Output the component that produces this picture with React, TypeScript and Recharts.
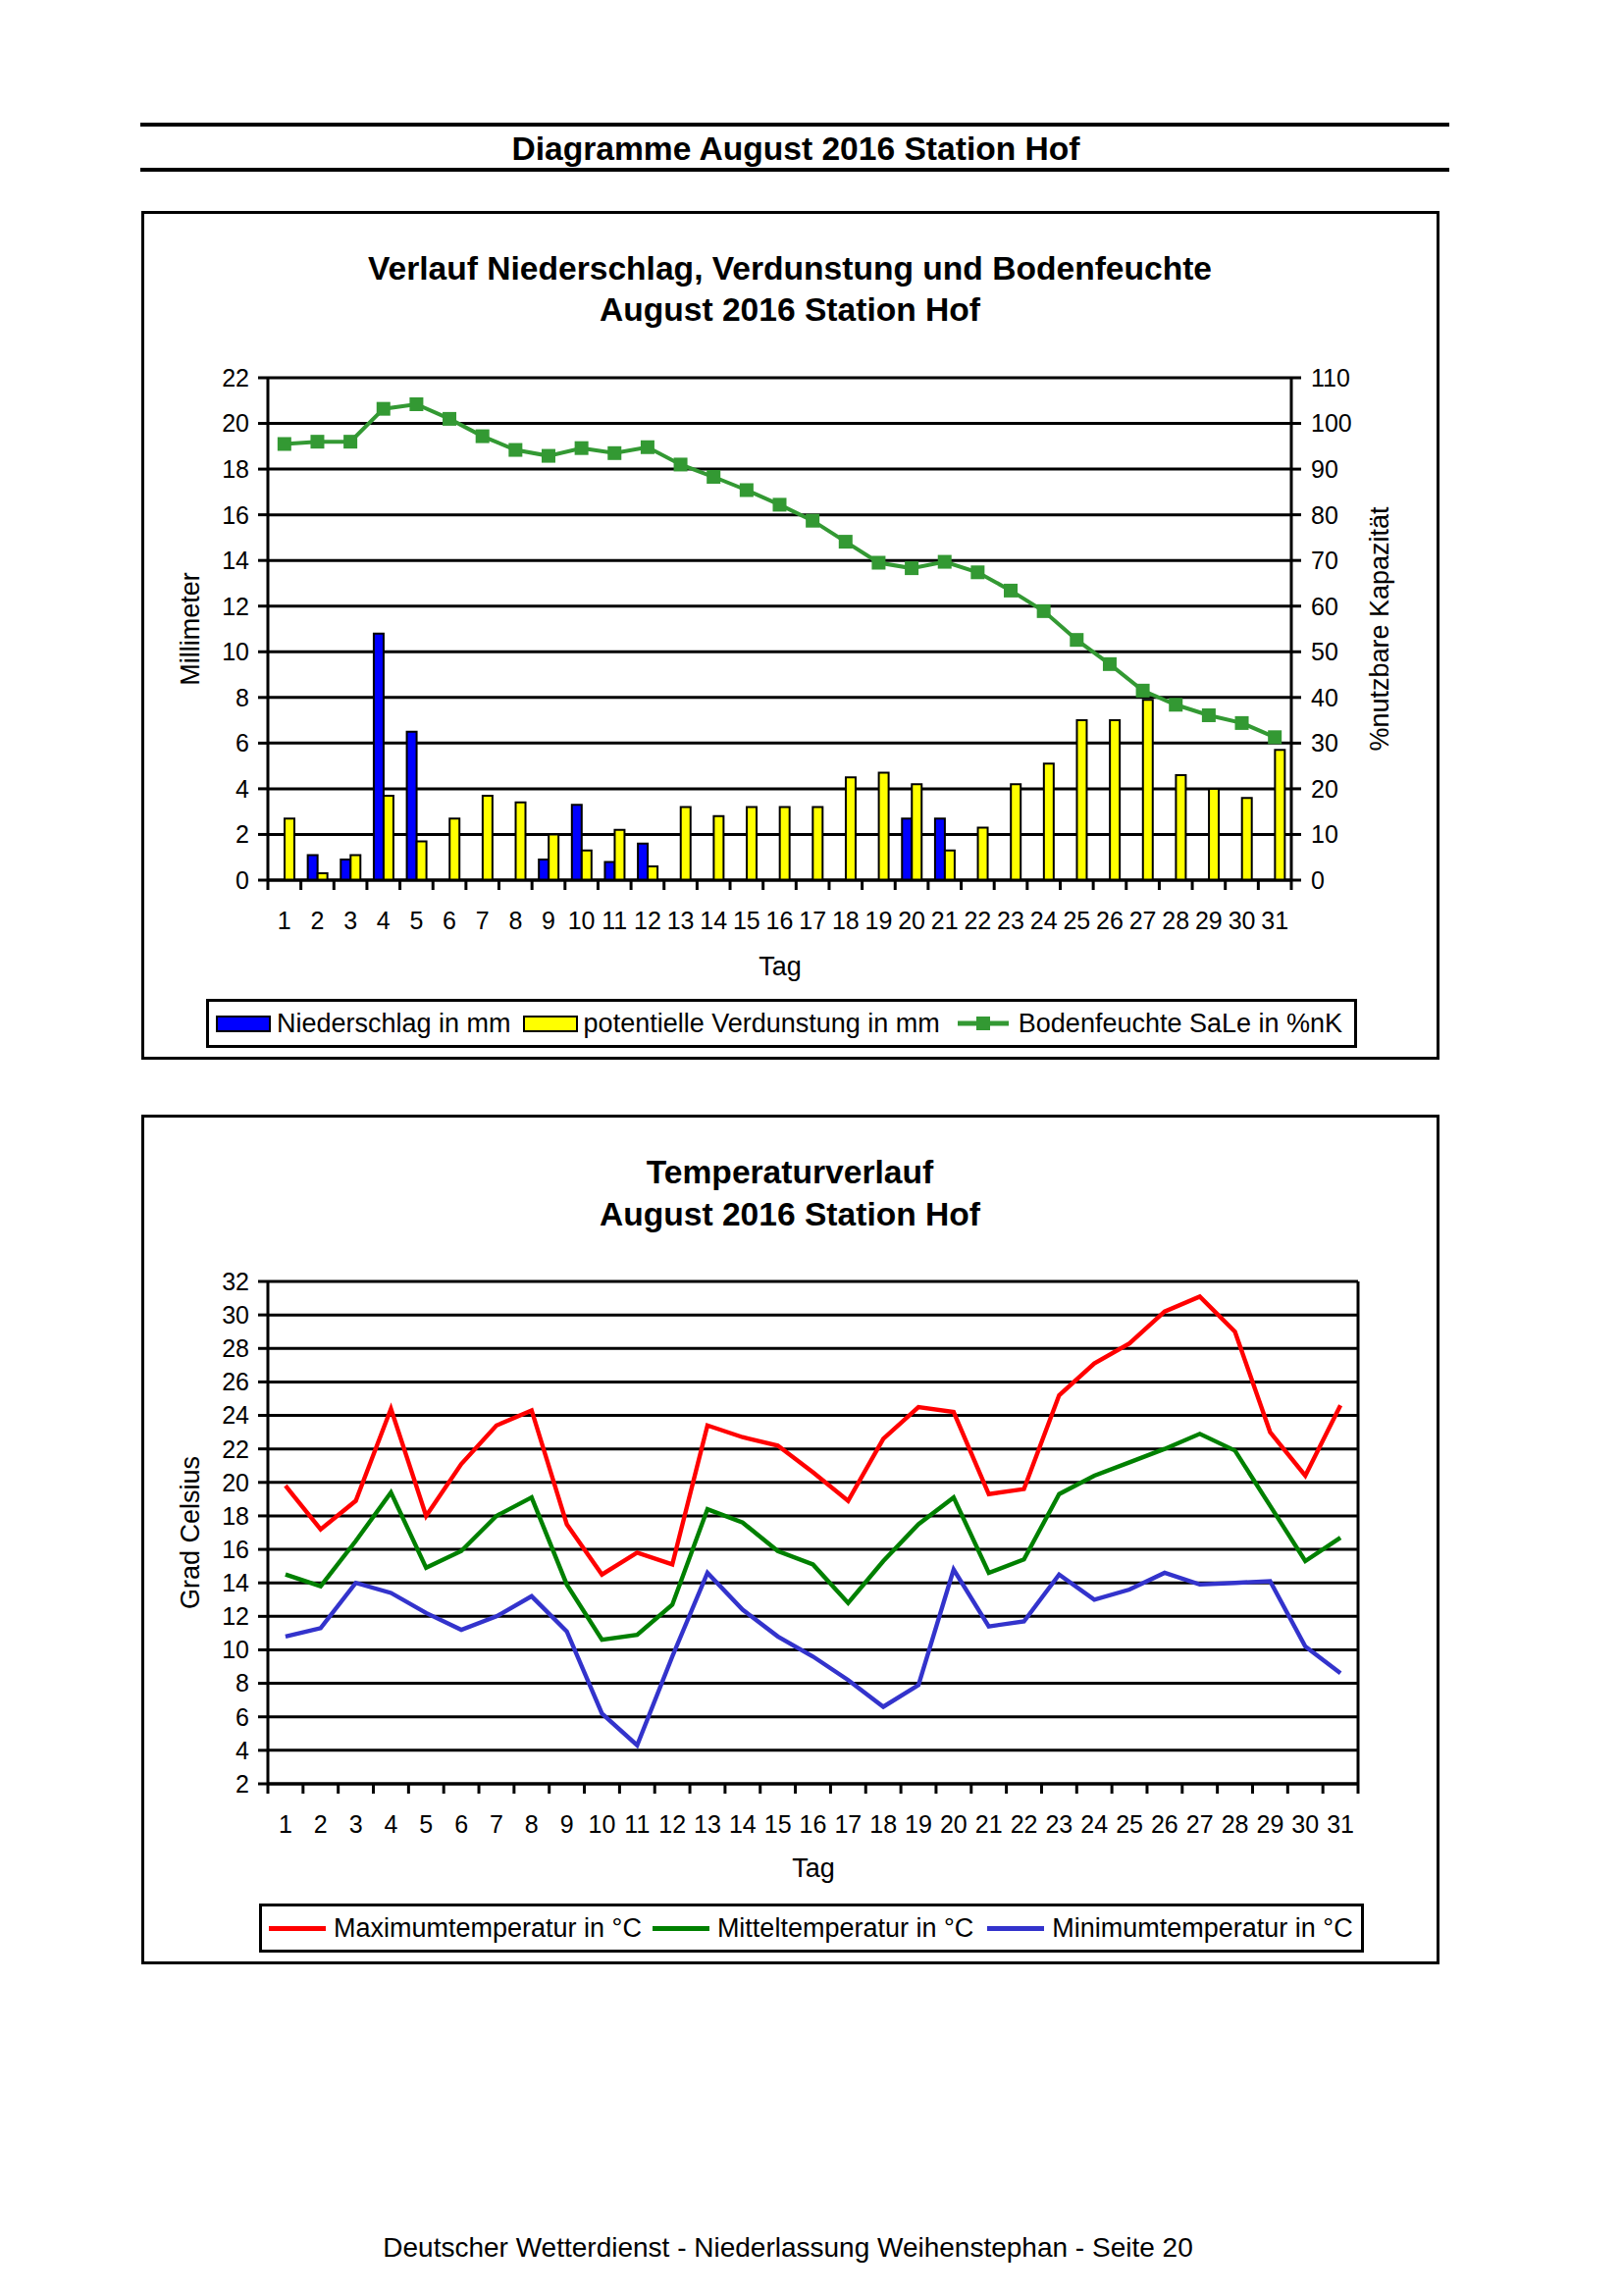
import React from 'react';
import { ComposedChart, LineChart, Bar, Line, XAxis, YAxis, CartesianGrid } from 'recharts';

const FONT = '"Liberation Sans", Arial, Helvetica, sans-serif';

const days = ['1','2','3','4','5','6','7','8','9','10','11','12','13','14','15','16','17','18','19','20','21','22','23','24','25','26','27','28','29','30','31'];

const niederschlag = [0, 1.1, 0.9, 10.8, 6.5, 0, 0, 0, 0.9, 3.3, 0.8, 1.6, 0, 0, 0, 0, 0, 0, 0, 2.7, 2.7, 0, 0, 0, 0, 0, 0, 0, 0, 0, 0];
const verdunstung = [2.7, 0.3, 1.1, 3.7, 1.7, 2.7, 3.7, 3.4, 2.0, 1.3, 2.2, 0.6, 3.2, 2.8, 3.2, 3.2, 3.2, 4.5, 4.7, 4.2, 1.3, 2.3, 4.2, 5.1, 7.0, 7.0, 7.9, 4.6, 4.0, 3.6, 5.7];
const bodenfeuchte = [95.5, 96.0, 96.0, 103.2, 104.2, 101.0, 97.2, 94.2, 92.9, 94.6, 93.5, 94.8, 91.0, 88.3, 85.4, 82.2, 78.7, 74.1, 69.5, 68.3, 69.7, 67.4, 63.4, 58.9, 52.6, 47.3, 41.5, 38.4, 36.1, 34.4, 31.3];

const tMax = [19.8, 17.2, 18.9, 24.4, 18.0, 21.1, 23.4, 24.3, 17.5, 14.5, 15.8, 15.1, 23.4, 22.7, 22.2, 20.6, 18.9, 22.6, 24.5, 24.2, 19.3, 19.6, 25.2, 27.1, 28.3, 30.2, 31.1, 29.0, 23.0, 20.4, 24.6];
const tMittel = [14.5, 13.8, 16.5, 19.4, 14.9, 15.9, 18.0, 19.1, 13.9, 10.6, 10.9, 12.7, 18.4, 17.6, 15.9, 15.1, 12.8, 15.3, 17.5, 19.1, 14.6, 15.4, 19.3, 20.4, 21.2, 22.0, 22.9, 21.9, 18.6, 15.3, 16.7];
const tMin = [10.8, 11.3, 14.0, 13.4, 12.2, 11.2, 12.0, 13.2, 11.1, 6.2, 4.3, 9.6, 14.6, 12.4, 10.8, 9.6, 8.2, 6.6, 7.9, 14.8, 11.4, 11.7, 14.5, 13.0, 13.6, 14.6, 13.9, 14.0, 14.1, 10.2, 8.6];

const mmTicks = [0, 2, 4, 6, 8, 10, 12, 14, 16, 18, 20, 22];
const nkTicks = [0, 10, 20, 30, 40, 50, 60, 70, 80, 90, 100, 110];
const tempTicks = [2, 4, 6, 8, 10, 12, 14, 16, 18, 20, 22, 24, 26, 28, 30, 32];

const wasserData = days.map((d, i) => ({
  tag: d,
  nied: niederschlag[i],
  verd: verdunstung[i],
  boden: bodenfeuchte[i],
}));

const tempData = days.map((d, i) => ({
  tag: d,
  max: tMax[i],
  mittel: tMittel[i],
  min: tMin[i],
}));

const BLUE = '#0000FF';
const YELLOW = '#FFFF00';
const GREEN_SOIL = '#339933';
const RED = '#FF0000';
const GREEN_T = '#008000';
const BLUE_T = '#3333CC';

const TICK_FS = 25;
const LABEL_FS = 27;
const TITLE_FS = 33.6;

function makeDayTick(plotWidth: number) {
  return function DayTick(props: any) {
    const { x, y, payload, index, visibleTicksCount } = props;
    const count = visibleTicksCount || 31;
    const half = plotWidth / count / 2;
    const last = index === count - 1;
    return (
      <g>
        <line x1={x - half} x2={x - half} y1={y} y2={y + 10} stroke="#000" strokeWidth={3} />
        {last ? <line x1={x + half} x2={x + half} y1={y} y2={y + 10} stroke="#000" strokeWidth={3} /> : null}
        <text x={x} y={y + 41} dy="0.35em" textAnchor="middle" fontSize={TICK_FS} fill="#000" fontFamily={FONT}>
          {payload.value}
        </text>
      </g>
    );
  };
}

function SquareDot(props: any) {
  const { cx, cy, index } = props;
  if (cx == null || cy == null) return <g key={`d${index}`} />;
  return <rect key={`d${index}`} x={cx - 7} y={cy - 7} width={14} height={14} fill={GREEN_SOIL} />;
}

function Txt(props: { cx: number; cy: number; size: number; bold?: boolean; rotate?: boolean; children: React.ReactNode }) {
  const { cx, cy, size, bold, rotate, children } = props;
  return (
    <div
      style={{
        position: 'absolute',
        left: cx,
        top: cy,
        transform: `translate(-50%, -50%)${rotate ? ' rotate(-90deg)' : ''}`,
        whiteSpace: 'nowrap',
        fontSize: size,
        lineHeight: 1,
        fontWeight: bold ? 700 : 400,
        fontFamily: FONT,
        color: '#000',
      }}
    >
      {children}
    </div>
  );
}

const axisLineStyle = { stroke: '#000', strokeWidth: 3 };
const tickStyle = { fontSize: TICK_FS, fill: '#000', fontFamily: FONT };

function WasserChart() {
  // box: left 144, top 215, 1323 x 865 ; plot: x 273..1316, y 385..897
  const plotW = 1316 - 273;
  return (
    <div style={{ position: 'absolute', left: 144, top: 215 }}>
      <ComposedChart
        width={1323}
        height={865}
        data={wasserData}
        margin={{ top: 170, left: 69, right: 91, bottom: 123 }}
        barGap={0}
        barCategoryGap={0}
      >
        <CartesianGrid vertical={false} horizontal stroke="#000" strokeWidth={3} />
        <XAxis
          dataKey="tag"
          interval={0}
          height={60}
          tickLine={false}
          tickSize={0}
          tickMargin={0}
          axisLine={axisLineStyle}
          tick={makeDayTick(plotW)}
        />
        <YAxis
          domain={[0, 22]}
          ticks={mmTicks}
          interval={0}
          width={60}
          tickSize={10}
          tickMargin={9}
          tick={tickStyle}
          tickLine={axisLineStyle}
          axisLine={axisLineStyle}
          allowDataOverflow
        />
        <YAxis
          yAxisId="right"
          orientation="right"
          domain={[0, 110]}
          ticks={nkTicks}
          interval={0}
          width={60}
          tickSize={10}
          tickMargin={10}
          tick={tickStyle}
          tickLine={axisLineStyle}
          axisLine={axisLineStyle}
          allowDataOverflow
        />
        <Bar dataKey="nied" fill={BLUE} stroke="#000" strokeWidth={2} barSize={10} isAnimationActive={false} />
        <Bar dataKey="verd" fill={YELLOW} stroke="#000" strokeWidth={2} barSize={10} isAnimationActive={false} />
        <Line
          yAxisId="right"
          dataKey="boden"
          stroke={GREEN_SOIL}
          strokeWidth={4}
          dot={SquareDot}
          activeDot={false}
          isAnimationActive={false}
        />
      </ComposedChart>
    </div>
  );
}

function TempChart() {
  // box: left 144, top 1136, 1323 x 866 ; plot: x 273..1384, y 1306..1818
  const plotW = 1384 - 273;
  return (
    <div style={{ position: 'absolute', left: 144, top: 1136 }}>
      <LineChart
        width={1323}
        height={866}
        data={tempData}
        margin={{ top: 170, left: 69, right: 82, bottom: 124 }}
      >
        <CartesianGrid vertical={false} horizontal stroke="#000" strokeWidth={3} />
        <XAxis
          dataKey="tag"
          scale="band"
          interval={0}
          height={60}
          tickLine={false}
          tickSize={0}
          tickMargin={0}
          axisLine={axisLineStyle}
          tick={makeDayTick(plotW)}
        />
        <YAxis
          domain={[2, 32]}
          ticks={tempTicks}
          interval={0}
          width={60}
          tickSize={10}
          tickMargin={9}
          tick={tickStyle}
          tickLine={axisLineStyle}
          axisLine={axisLineStyle}
          allowDataOverflow
        />
        <YAxis
          yAxisId="frame"
          orientation="right"
          domain={[2, 32]}
          width={1}
          tick={false}
          tickLine={false}
          axisLine={axisLineStyle}
        />
        <Line dataKey="max" stroke={RED} strokeWidth={4.4} dot={false} activeDot={false} isAnimationActive={false} />
        <Line dataKey="mittel" stroke={GREEN_T} strokeWidth={4.4} dot={false} activeDot={false} isAnimationActive={false} />
        <Line dataKey="min" stroke={BLUE_T} strokeWidth={4.4} dot={false} activeDot={false} isAnimationActive={false} />
      </LineChart>
    </div>
  );
}

function Box(props: { left: number; top: number; width: number; height: number; border?: number }) {
  const { left, top, width, height, border = 3 } = props;
  return (
    <div
      style={{
        position: 'absolute',
        left,
        top,
        width,
        height,
        border: `${border}px solid #000`,
        boxSizing: 'border-box',
        background: 'transparent',
      }}
    />
  );
}

function HLine(props: { left: number; top: number; width: number; h: number }) {
  return (
    <div style={{ position: 'absolute', left: props.left, top: props.top, width: props.width, height: props.h, background: '#000' }} />
  );
}

const legendText: React.CSSProperties = { fontSize: LABEL_FS, fontFamily: FONT, color: '#000', whiteSpace: 'nowrap', lineHeight: 1 };

function WasserLegend() {
  return (
    <div
      style={{
        position: 'absolute',
        left: 210,
        top: 1018,
        width: 1173,
        height: 50,
        border: '3px solid #000',
        boxSizing: 'border-box',
        display: 'flex',
        alignItems: 'center',
        paddingLeft: 7,
        background: '#fff',
      }}
    >
      <div style={{ width: 56, height: 17, background: BLUE, border: '2px solid #000', boxSizing: 'border-box', marginRight: 6 }} />
      <span style={{ ...legendText, marginRight: 12 }}>Niederschlag in mm</span>
      <div style={{ width: 56, height: 17, background: YELLOW, border: '2px solid #000', boxSizing: 'border-box', marginRight: 6 }} />
      <span style={{ ...legendText, marginRight: 18 }}>potentielle Verdunstung in mm</span>
      <svg width={52} height={20} style={{ marginRight: 10 }}>
        <line x1={0} x2={52} y1={10} y2={10} stroke={GREEN_SOIL} strokeWidth={5} />
        <rect x={19} y={3} width={14} height={14} fill={GREEN_SOIL} />
      </svg>
      <span style={legendText}>Bodenfeuchte SaLe in %nK</span>
    </div>
  );
}

function TempLegend() {
  const item = (color: string, label: string, mr: number) => (
    <>
      <div style={{ width: 58, height: 5, background: color, marginRight: 8 }} />
      <span style={{ ...legendText, marginRight: mr }}>{label}</span>
    </>
  );
  return (
    <div
      style={{
        position: 'absolute',
        left: 264,
        top: 1940,
        width: 1126,
        height: 50,
        border: '3px solid #000',
        boxSizing: 'border-box',
        display: 'flex',
        alignItems: 'center',
        paddingLeft: 7,
        background: '#fff',
      }}
    >
      {item(RED, 'Maximumtemperatur in °C', 11)}
      {item(GREEN_T, 'Mitteltemperatur in °C', 14)}
      {item(BLUE_T, 'Minimumtemperatur in °C', 0)}
    </div>
  );
}

export default function App() {
  return (
    <div style={{ position: 'absolute', left: 0, top: 0, width: 1653, height: 2340, background: '#fff', fontFamily: FONT }}>
      {/* page header */}
      <HLine left={143} top={125} width={1334} h={4} />
      <Txt cx={811} cy={152} size={TITLE_FS} bold>Diagramme August 2016 Station Hof</Txt>
      <HLine left={143} top={171} width={1334} h={4} />

      {/* chart 1 */}
      <Box left={144} top={215} width={1323} height={865} />
      <Txt cx={805} cy={274} size={TITLE_FS} bold>Verlauf Niederschlag, Verdunstung und Bodenfeuchte</Txt>
      <Txt cx={805} cy={316} size={TITLE_FS} bold>August 2016 Station Hof</Txt>
      <WasserChart />
      <Txt cx={194} cy={641} size={LABEL_FS} rotate>Millimeter</Txt>
      <Txt cx={1406} cy={641} size={LABEL_FS} rotate>%nutzbare Kapazität</Txt>
      <Txt cx={795} cy={985} size={LABEL_FS}>Tag</Txt>
      <WasserLegend />

      {/* chart 2 */}
      <Box left={144} top={1136} width={1323} height={866} />
      <Txt cx={805} cy={1195} size={TITLE_FS} bold>Temperaturverlauf</Txt>
      <Txt cx={805} cy={1238} size={TITLE_FS} bold>August 2016 Station Hof</Txt>
      <TempChart />
      <Txt cx={194} cy={1562} size={LABEL_FS} rotate>Grad Celsius</Txt>
      <Txt cx={829} cy={1904} size={LABEL_FS}>Tag</Txt>
      <TempLegend />

      {/* footer */}
      <Txt cx={803} cy={2291} size={28}>Deutscher Wetterdienst - Niederlassung Weihenstephan - Seite 20</Txt>
    </div>
  );
}
